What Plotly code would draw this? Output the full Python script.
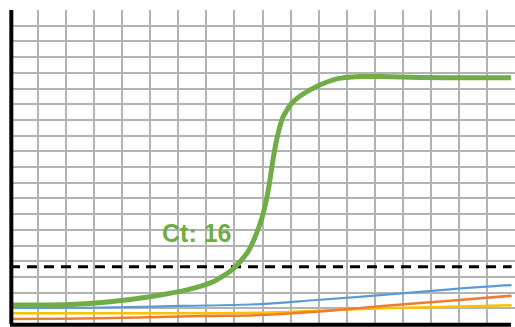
import plotly.graph_objects as go

# Cycle positions (x) and fluorescence values (y, in grid units)
green_x = [0, 2.14, 4.28, 7.13, 9.98, 12.62, 14.47, 15.89, 16.96, 17.53, 17.96, 18.32, 18.53,
           18.78, 19.10, 19.46, 20.08, 20.79, 21.86, 23.29, 24.95, 26.37, 29.22, 32.79, 35.71]
green_y = [1.21, 1.21, 1.24, 1.42, 1.74, 2.17, 2.69, 3.50, 4.59, 5.67, 6.75, 8.09, 9.17,
           10.64, 12.10, 13.18, 14.06, 14.59, 15.13, 15.61, 15.76, 15.76, 15.70, 15.69, 15.69]

blue_x = [0, 6.41, 12.12, 17.82, 21.86, 26.59, 31.36, 35.76]
blue_y = [1.02, 1.05, 1.15, 1.27, 1.53, 1.85, 2.21, 2.48]

orange_x = [0, 6.41, 13.54, 17.82, 21.86, 26.59, 31.36, 35.76]
orange_y = [0.32, 0.36, 0.51, 0.57, 0.78, 1.15, 1.48, 1.80]

yellow_x = [0, 6.41, 17.82, 21.86, 26.59, 31.36, 35.76]
yellow_y = [0.68, 0.68, 0.72, 0.85, 1.00, 1.10, 1.19]

threshold = 3.65
threshold_x = [0, 35.76]
ct_label = "Ct: 16"
ct_pos = (13.26, 5.8)

GREEN = "#70AD47"
BLUE = "#5B9BD5"
ORANGE = "#ED7D31"
YELLOW = "#FFC000"

fig = go.Figure()
fig.add_trace(go.Scatter(x=yellow_x, y=yellow_y, mode="lines",
                         line=dict(color=YELLOW, width=2.5, shape="spline")))
fig.add_trace(go.Scatter(x=orange_x, y=orange_y, mode="lines",
                         line=dict(color=ORANGE, width=2.5, shape="spline")))
fig.add_trace(go.Scatter(x=blue_x, y=blue_y, mode="lines",
                         line=dict(color=BLUE, width=2.2, shape="spline")))
fig.add_trace(go.Scatter(x=threshold_x, y=[threshold, threshold], mode="lines",
                         line=dict(color="black", width=3, dash="10px,7px")))
fig.add_trace(go.Scatter(x=green_x, y=green_y, mode="lines",
                         line=dict(color=GREEN, width=5, shape="spline", smoothing=0.6)))

fig.add_annotation(x=ct_pos[0], y=ct_pos[1], text=ct_label, showarrow=False,
                   font=dict(family="Liberation Sans", size=25, color=GREEN, weight="bold"))

# axis lines
fig.add_shape(type="line", xref="paper", yref="paper", x0=0.0026, x1=0.0026, y0=0, y1=1,
              line=dict(color="black", width=4))
fig.add_shape(type="line", xref="paper", yref="paper", x0=0, x1=0.992, y0=-0.002, y1=-0.002,
              line=dict(color="black", width=4))

fig.update_layout(
    width=515, height=327,
    margin=dict(l=10, r=0, t=10, b=3),
    paper_bgcolor="white", plot_bgcolor="white",
    showlegend=False,
    xaxis=dict(range=[0, 36], dtick=2, tick0=0, showticklabels=False, ticks="",
               showgrid=True, gridcolor="#b3b3b3", gridwidth=1.5, zeroline=False, showline=False),
    yaxis=dict(range=[0, 20], dtick=1, tick0=0, showticklabels=False, ticks="",
               showgrid=True, gridcolor="#b3b3b3", gridwidth=1.5, zeroline=False, showline=False),
)

fig.write_html("out.html", config={"displayModeBar": False},
               post_script="document.body.style.margin='0';document.body.style.overflow='hidden';")
